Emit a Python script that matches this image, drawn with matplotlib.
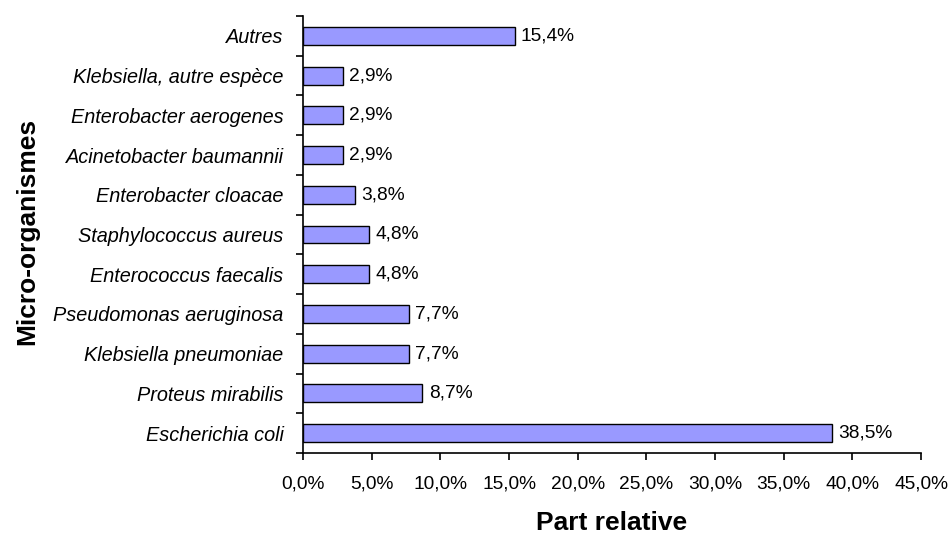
import matplotlib
matplotlib.use("Agg")
import matplotlib.pyplot as plt
import matplotlib.ticker as mticker
import numpy as np

plt.rcParams["font.family"] = ["Liberation Sans", "DejaVu Sans"]

# bottom to top
organisms = [
    "Escherichia coli",
    "Proteus mirabilis",
    "Klebsiella pneumoniae",
    "Pseudomonas aeruginosa",
    "Enterococcus faecalis",
    "Staphylococcus aureus",
    "Enterobacter cloacae",
    "Acinetobacter baumannii",
    "Enterobacter aerogenes",
    "Klebsiella, autre espèce",
    "Autres",
]
shares = [38.5, 8.7, 7.7, 7.7, 4.8, 4.8, 3.8, 2.9, 2.9, 2.9, 15.4]
x_ticks = [0, 5, 10, 15, 20, 25, 30, 35, 40, 45]

BAR_COLOR = "#9999FF"
FS = 13.8


def fr_pct(v):
    return f"{v:.1f}%".replace(".", ",")


fig = plt.figure(figsize=(9.49, 5.35), dpi=100)
ax = fig.add_axes([0.3193, 0.1533, 0.6512, 0.8168])

y = np.arange(len(organisms))
ax.barh(y, shares, height=0.45, color=BAR_COLOR, edgecolor="black",
        linewidth=1.0, zorder=2)

for yi, v in zip(y, shares):
    ax.annotate(fr_pct(v), (v, yi), xytext=(4.5, 0), textcoords="offset points",
                ha="left", va="center", fontsize=FS)

ax.set_xlim(0, 45)
ax.set_ylim(-0.5, len(organisms) - 0.5)

ax.set_xticks(x_ticks)
ax.xaxis.set_major_formatter(mticker.FuncFormatter(lambda v, p: fr_pct(v)))
ax.tick_params(axis="x", direction="out", length=5, width=1.2, pad=11,
               labelsize=FS)

ax.set_yticks(y)
ax.set_yticklabels(organisms, fontsize=14.3, fontstyle="italic")
ax.set_yticks(np.arange(-0.5, len(organisms)), minor=True)
ax.tick_params(axis="y", which="major", length=0, pad=14)
ax.tick_params(axis="y", which="minor", direction="out", length=5, width=1.2)

for s in ["top", "right"]:
    ax.spines[s].set_visible(False)
for s in ["left", "bottom"]:
    ax.spines[s].set_linewidth(1.2)

ax.set_xlabel("Part relative", fontsize=19, fontweight="bold")
ax.xaxis.set_label_coords(0.5, -0.133)
ax.set_ylabel("Micro-organismes", fontsize=19, fontweight="bold")
ax.yaxis.set_label_coords(-0.427, 0.508)

fig.savefig("out.png", dpi=100, facecolor="white")
